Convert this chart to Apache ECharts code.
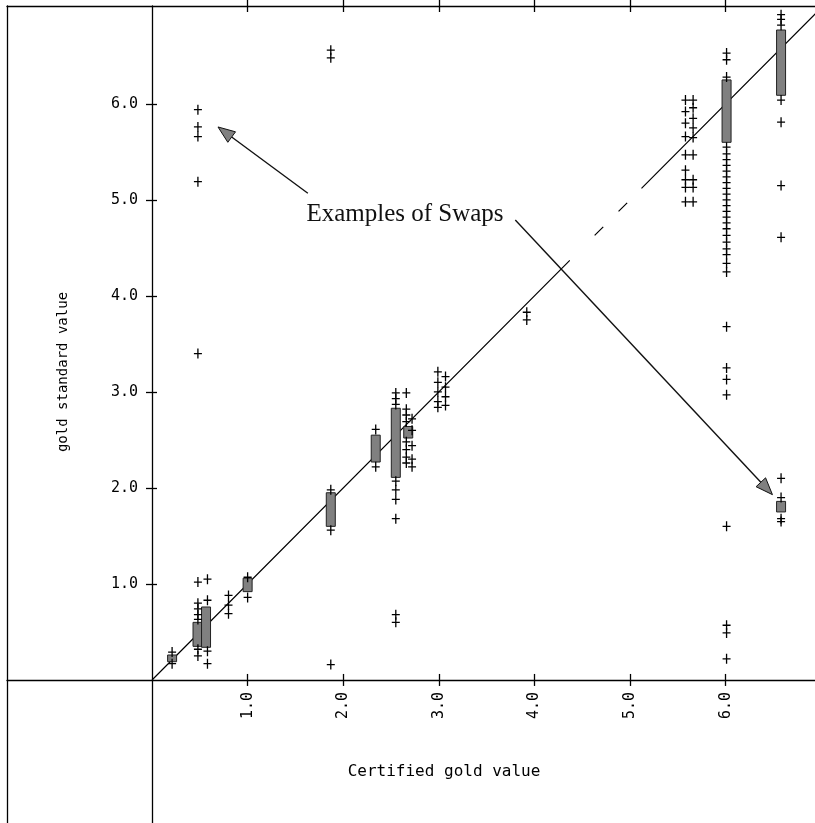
<!DOCTYPE html>
<html>
<head>
<meta charset="utf-8">
<script src="https://cdn.jsdelivr.net/npm/echarts@6/dist/echarts.min.js"></script>
<style>
html,body{margin:0;padding:0;background:#fff;}
#chart{width:815px;height:823px;}
</style>
</head>
<body>
<div id="chart"></div>
<script>
// ---------- data ----------
const tickValues = [1, 2, 3, 4, 5, 6];

// certified values (x) of each column of "+" marks
const columnX = [0.21, 0.48, 0.58, 0.80, 1.00, 1.87, 2.34, 2.55, 2.66, 2.72, 2.99, 3.07, 3.92, 5.58, 5.66, 6.01, 6.58];
// gold standard values (y) of the "+" marks in each column
const columnY = [
  [0.29, 0.17],
  [1.02, 0.80, 0.74, 0.68, 0.63, 0.32, 0.25, 5.94, 5.76, 5.66, 5.19, 3.40],
  [1.05, 0.83, 0.30, 0.17],
  [0.88, 0.78, 0.69],
  [1.07, 0.86],
  [6.56, 6.48, 1.98, 1.56, 0.16],
  [2.61, 2.22],
  [2.99, 2.93, 2.87, 2.07, 1.98, 1.88, 1.68, 0.68, 0.60],
  [2.99, 2.82, 2.76, 2.69, 2.48, 2.40, 2.32, 2.26],
  [2.72, 2.60, 2.44, 2.30, 2.22],
  [3.21, 3.10, 3.00, 2.90, 2.84],
  [3.16, 3.05, 2.95, 2.86],
  [3.83, 3.75],
  [6.04, 5.92, 5.80, 5.66, 5.47, 5.31, 5.21, 5.13, 4.98],
  [6.04, 5.96, 5.85, 5.75, 5.65, 5.47, 5.21, 5.13, 4.98],
  [6.53, 6.46, 6.28, 5.55, 5.48, 5.42, 5.36, 5.30, 5.24, 5.18, 5.12, 5.06, 5.00, 4.94, 4.88, 4.82, 4.76, 4.70, 4.63, 4.56, 4.49, 4.43, 4.34, 4.25, 3.68, 3.25, 3.13, 2.97, 1.60, 0.57, 0.49, 0.22],
  [6.93, 6.88, 6.82, 6.04, 5.81, 5.15, 4.61, 2.10, 1.90, 1.68, 1.65]
];

// dense clusters (overlapping marks shown as grey blocks)
const boxX    = [0.21, 0.476, 0.565, 1.00, 1.87, 2.34, 2.55, 2.68, 6.01, 6.58, 6.58];
const boxLow  = [0.19, 0.35, 0.34, 0.92, 1.60, 2.27, 2.11, 2.52, 5.60, 6.09, 1.75];
const boxHigh = [0.26, 0.60, 0.76, 1.06, 1.95, 2.55, 2.83, 2.64, 6.25, 6.77, 1.86];

// y = x reference line, drawn in pieces (gaps as in the original print)
const diagStart = [0, 4.63, 4.88, 5.12];
const diagEnd   = [4.37, 4.72, 4.97, 7.20];

// annotation
const noteText = 'Examples of Swaps';
const notePos = [2.646, 4.85];
const arrowFrom = [[1.63, 5.07], [3.80, 4.79]];
const arrowTo   = [[0.69, 5.76], [6.49, 1.93]];

const xName = 'Certified gold value';
const yName = 'gold standard value';

const xMin = -1.517, xMax = 6.935, yMin = -1.49, yMax = 7.02;

// ---------- build ----------
const crossData = [];
columnX.forEach((x, i) => columnY[i].forEach(y => crossData.push([x, y])));
const boxData = boxX.map((x, i) => [x, boxLow[i], boxHigh[i]]);
const diagData = [];
diagStart.forEach((a, i) => {
  diagData.push([a, a], [diagEnd[i], diagEnd[i]], ['-', '-']);
});
const arrowData = arrowFrom.map((p, i) => [p[0], p[1], arrowTo[i][0], arrowTo[i][1]]);

const MONO = '"DejaVu Sans Mono", "Liberation Mono", monospace';
const fmt = v => v.toFixed(1);
const blackLine = { color: '#000', width: 1.3 };

const baseX = { type: 'value', min: xMin, max: xMax, splitLine: { show: false }, axisLabel: { show: false } };
const baseY = { type: 'value', min: yMin, max: yMax, splitLine: { show: false }, axisLabel: { show: false } };

const chart = echarts.init(document.getElementById('chart'), null, { renderer: 'canvas' });
chart.setOption({
  animation: false,
  backgroundColor: '#fff',
  grid: { left: 7, right: 0, top: 6, bottom: 0, containLabel: false, outerBoundsMode: 'none' },
  xAxis: [
    Object.assign({}, baseX, {
      position: 'bottom',
      axisLine: { show: true, onZero: true, onZeroAxisIndex: 0, lineStyle: blackLine },
      axisTick: { show: true, customValues: tickValues, inside: false, length: 6, lineStyle: blackLine }
    }),
    Object.assign({}, baseX, {
      position: 'bottom',
      axisLine: { show: false, onZero: true, onZeroAxisIndex: 0 },
      axisTick: { show: true, customValues: tickValues, inside: true, length: 6, lineStyle: blackLine }
    }),
    Object.assign({}, baseX, {
      position: 'top',
      axisLine: { show: true, onZero: false, lineStyle: blackLine },
      axisTick: { show: true, customValues: tickValues, inside: true, length: 6, lineStyle: blackLine }
    }),
    Object.assign({}, baseX, {
      position: 'top',
      axisLine: { show: false, onZero: false },
      axisTick: { show: true, customValues: tickValues, inside: false, length: 6, lineStyle: blackLine }
    })
  ],
  yAxis: [
    Object.assign({}, baseY, {
      position: 'left',
      axisLine: { show: true, onZero: true, onZeroAxisIndex: 0, lineStyle: blackLine },
      axisTick: { show: true, customValues: tickValues, inside: false, length: 6, lineStyle: blackLine }
    }),
    Object.assign({}, baseY, {
      position: 'left',
      axisLine: { show: false, onZero: true, onZeroAxisIndex: 0 },
      axisTick: { show: true, customValues: tickValues, inside: true, length: 5, lineStyle: blackLine }
    }),
    Object.assign({}, baseY, {
      position: 'left',
      axisLine: { show: true, onZero: false, lineStyle: blackLine },
      axisTick: { show: false }
    })
  ],
  graphic: [
    { type: 'text', x: 444, y: 772, style: { text: xName, fontFamily: MONO, fontSize: 16,
      fill: '#000', align: 'center', verticalAlign: 'middle' } },
    { type: 'text', x: 63, y: 372, rotation: Math.PI / 2, style: { text: yName, fontFamily: MONO, fontSize: 14,
      fill: '#000', align: 'center', verticalAlign: 'middle' } }
  ],
  series: [
    {
      type: 'line', xAxisIndex: 0, yAxisIndex: 0, data: diagData, showSymbol: false, symbol: 'none',
      connectNulls: false, lineStyle: { color: '#000', width: 1.2 }, silent: true, z: 2
    },
    {
      type: 'custom', xAxisIndex: 0, yAxisIndex: 0, data: boxData, z: 3,
      encode: { x: 0, y: [1, 2] },
      renderItem: function (params, api) {
        const x = api.value(0);
        const top = api.coord([x, api.value(2)]);
        const bot = api.coord([x, api.value(1)]);
        return { type: 'rect',
          shape: { x: top[0] - 4.5, y: top[1], width: 9, height: bot[1] - top[1] },
          style: { fill: '#808080', stroke: '#222', lineWidth: 1 } };
      }
    },
    {
      type: 'scatter', xAxisIndex: 0, yAxisIndex: 0, data: crossData, z: 4,
      symbol: 'path://M0,4.35 H8 V5.65 H0 Z M3.35,0 H4.65 V10 H3.35 Z',
      symbolSize: [8, 10], itemStyle: { color: '#000', opacity: 1 }, silent: true
    },
    {
      type: 'custom', xAxisIndex: 0, yAxisIndex: 0, data: arrowData, z: 5, silent: true,
      encode: { x: [0, 2], y: [1, 3] },
      renderItem: function (params, api) {
        const p0 = api.coord([api.value(0), api.value(1)]);
        const p1 = api.coord([api.value(2), api.value(3)]);
        const dx = p1[0] - p0[0], dy = p1[1] - p0[1];
        const len = Math.sqrt(dx * dx + dy * dy);
        const ux = dx / len, uy = dy / len;
        const L = 17, W = 6.5;
        const bx = p1[0] - ux * L, by = p1[1] - uy * L;
        return { type: 'group', children: [
          { type: 'line', shape: { x1: p0[0], y1: p0[1], x2: bx, y2: by },
            style: { stroke: '#111', lineWidth: 1.4 } },
          { type: 'polygon', shape: { points: [[p1[0], p1[1]], [bx - uy * W, by + ux * W], [bx + uy * W, by - ux * W]] },
            style: { fill: '#808080', stroke: '#111', lineWidth: 1 } }
        ] };
      }
    },
    {
      // x tick labels, placed at the zero line through the axis scale
      type: 'custom', xAxisIndex: 0, yAxisIndex: 0, data: tickValues.map(v => [v, 0]), z: 6, silent: true,
      encode: { x: 0, y: 1 },
      renderItem: function (params, api) {
        const v = api.value(0);
        const p = api.coord([v, api.value(1)]);
        return { type: 'text', x: p[0], y: p[1] + 12, rotation: Math.PI / 2,
          style: { text: fmt(v), fontFamily: MONO, fontSize: 15, fill: '#000', align: 'right', verticalAlign: 'middle' } };
      }
    },
    {
      // y tick labels
      type: 'custom', xAxisIndex: 0, yAxisIndex: 0, data: tickValues.map(v => [0, v]), z: 6, silent: true,
      encode: { x: 0, y: 1 },
      renderItem: function (params, api) {
        const v = api.value(1);
        const p = api.coord([api.value(0), v]);
        return { type: 'text', x: p[0] - 14, y: p[1],
          style: { text: fmt(v), fontFamily: MONO, fontSize: 15, fill: '#000', align: 'right', verticalAlign: 'middle' } };
      }
    },
    {
      type: 'custom', xAxisIndex: 0, yAxisIndex: 0, data: [notePos], z: 6, silent: true,
      encode: { x: 0, y: 1 },
      renderItem: function (params, api) {
        const p = api.coord([api.value(0), api.value(1)]);
        return { type: 'text', x: p[0], y: p[1],
          style: { text: noteText, fontFamily: '"Liberation Serif", "Times New Roman", serif', fontSize: 25,
                   fill: '#111', align: 'center', verticalAlign: 'middle' } };
      }
    }
  ]
});
</script>
</body>
</html>
